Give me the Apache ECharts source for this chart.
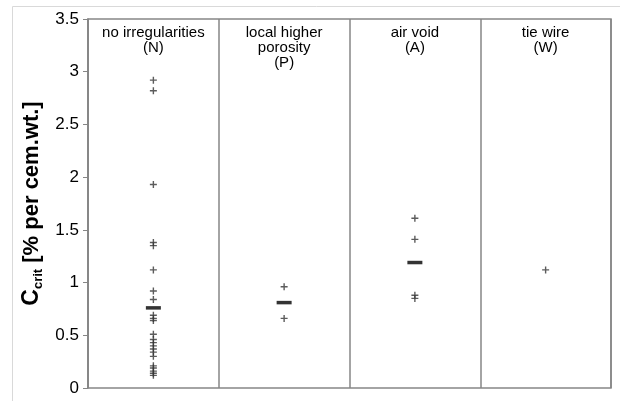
<!DOCTYPE html>
<html>
<head>
<meta charset="utf-8">
<script src="https://cdn.jsdelivr.net/npm/echarts@6/dist/echarts.min.js"></script>
<style>
  html, body { margin: 0; padding: 0; background: #fff; }
  #chart { width: 620px; height: 401px; }
</style>
</head>
<body>
<div id="chart"></div>
<script>
  // categories (column headers)
  var categories = ['no irregularities\n(N)', 'local higher\nporosity\n(P)', 'air void\n(A)', 'tie wire\n(W)'];
  var yTicks = [0, 0.5, 1, 1.5, 2, 2.5, 3, 3.5];

  // single measurements per category
  var valuesN = [2.92, 2.82, 1.93, 1.38, 1.35, 1.12, 0.92, 0.84, 0.69, 0.66, 0.64,
                 0.51, 0.46, 0.43, 0.40, 0.37, 0.34, 0.30, 0.21, 0.19, 0.16, 0.14, 0.12];
  var valuesP = [0.96, 0.66];
  var valuesA = [1.61, 1.41, 0.88, 0.85];
  var valuesW = [1.12];

  // mean values (thick bars)
  var means = [0.76, 0.81, 1.19, null];

  var groups = [valuesN, valuesP, valuesA, valuesW];
  var points = [];
  groups.forEach(function (arr, i) {
    arr.forEach(function (v) { points.push([i, v]); });
  });
  var meanPts = [];
  means.forEach(function (v, i) {
    if (v != null) meanPts.push([i, v]);
  });

  var plus = 'path://M4,0L6,0L6,4L10,4L10,6L6,6L6,10L4,10L4,6L0,6L0,4L4,4Z';

  var chart = echarts.init(document.getElementById('chart'));
  chart.setOption({
    animation: false,
    textStyle: { fontFamily: 'Liberation Sans, Arial, sans-serif' },
    graphic: [{
      type: 'rect',
      shape: { x: 12.5, y: 6.5, width: 700, height: 500 },
      style: { fill: 'none', stroke: '#d9d9d9', lineWidth: 1 },
      silent: true
    }],
    grid: {
      left: 88, right: 9, top: 19, bottom: 13,
      show: true, borderColor: '#868686', borderWidth: 1.5
    },
    xAxis: {
      type: 'category',
      data: categories,
      position: 'top',
      boundaryGap: true,
      axisLine: { show: false },
      axisTick: { show: false },
      splitLine: { show: true, interval: 0, lineStyle: { color: '#868686', width: 1.5 } },
      axisLabel: {
        interval: 0, hideOverlap: false,
        inside: true, margin: 6, color: '#000', fontSize: 15, lineHeight: 15,
        verticalAlign: 'top'
      }
    },
    yAxis: {
      type: 'value',
      min: 0, max: 3.5, interval: 0.5,
      axisLine: { show: true, lineStyle: { color: '#868686', width: 1.5 } },
      axisTick: { show: true, inside: false, length: 5, lineStyle: { color: '#868686' } },
      splitLine: { show: false },
      axisLabel: {
        color: '#000', fontSize: 17, margin: 9,
        formatter: function (v) { return yTicks.indexOf(v) >= 0 ? String(v) : ''; }
      },
      name: '{c|C}{s|crit}{b| [% per cem.wt.]}',
      nameLocation: 'middle',
      nameGap: 41,
      nameRotate: 90,
      nameTextStyle: {
        rich: {
          c: { fontSize: 23, fontWeight: 'bold', color: '#000' },
          s: { fontSize: 13, fontWeight: 'bold', color: '#000', padding: [12, 0, 0, 0] },
          b: { fontSize: 22, fontWeight: 'bold', color: '#000' }
        }
      }
    },
    series: [
      {
        type: 'scatter',
        data: points,
        symbol: plus,
        symbolSize: 7,
        itemStyle: { color: '#333' },
        z: 3
      },
      {
        type: 'scatter',
        data: meanPts,
        symbol: 'rect',
        symbolSize: [15, 3.5],
        itemStyle: { color: '#000' },
        z: 4
      }
    ]
  });
</script>
</body>
</html>
